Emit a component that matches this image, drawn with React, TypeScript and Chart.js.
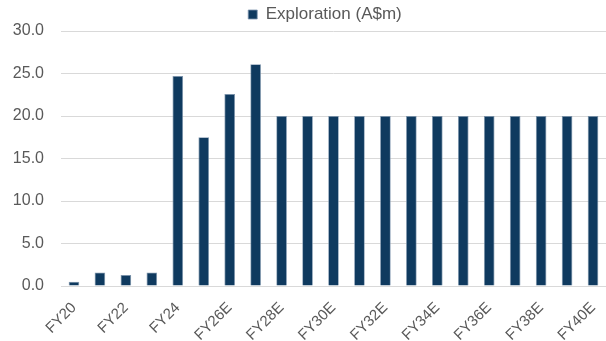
import React, { useEffect, useRef } from "react";
import { Chart, registerables } from "chart.js";

Chart.register(...registerables);

const categories = [
  "FY20", "FY21", "FY22", "FY23", "FY24", "FY25", "FY26E", "FY27E", "FY28E", "FY29E", "FY30E",
  "FY31E", "FY32E", "FY33E", "FY34E", "FY35E", "FY36E", "FY37E", "FY38E", "FY39E", "FY40E",
];
const exploration = [
  0.5, 1.6, 1.3, 1.6, 24.7, 17.5, 22.6, 26.1, 20, 20, 20,
  20, 20, 20, 20, 20, 20, 20, 20, 20, 20,
];
const seriesName = "Exploration (A$m)";

const shiftLegend = {
  id: "shiftLegend",
  afterLayout(chart: any) {
    const lg = chart.legend;
    if (!lg) return;
    lg.left += 22;
    lg.right += 22;
    lg.top += 2;
    lg.bottom += 2;
  },
};

export default function App() {
  const ref = useRef<HTMLCanvasElement | null>(null);
  useEffect(() => {
    document.body.style.margin = "0";
    const canvas = ref.current;
    if (!canvas) return;
    const font = "'Liberation Sans', Arial, sans-serif";
    const chart = new Chart(canvas, {
      type: "bar",
      data: {
        labels: categories,
        datasets: [
          {
            label: seriesName,
            data: exploration,
            backgroundColor: "#0F3A5F",
            borderColor: "#7F96AE",
            borderWidth: 0.8,
            barPercentage: 0.41,
            categoryPercentage: 1,
          },
        ],
      },
      plugins: [shiftLegend],
      options: {
        animation: false,
        responsive: false,
        maintainAspectRatio: false,
        layout: { padding: { left: 0, right: 0, top: 0, bottom: 0 } },
        plugins: {
          legend: {
            position: "top",
            labels: {
              boxWidth: 9,
              boxHeight: 9,
              color: "#595959",
              font: { family: font, size: 17 },
              padding: 4,
            },
          },
          tooltip: { enabled: false },
        },
        scales: {
          x: {
            grid: { display: false, drawTicks: false },
            border: { color: "#D9D9D9", width: 1 },
            afterFit: (s: any) => {
              s.height = 55;
              s.paddingLeft = 0;
              s.paddingRight = 0;
            },
            ticks: {
              autoSkip: false,
              maxRotation: 45,
              minRotation: 45,
              color: "#595959",
              font: { family: font, size: 15 },
              padding: 13,
              callback: (_v: any, i: number) => (i % 2 === 0 ? categories[i] : ""),
            },
          },
          y: {
            min: 0,
            max: 30,
            grid: { color: "#D9D9D9", drawTicks: false, lineWidth: 1 },
            border: { display: false },
            afterFit: (s: any) => {
              s.width = 61;
              s.paddingTop = 0;
              s.paddingBottom = 0;
            },
            ticks: {
              stepSize: 5,
              color: "#595959",
              font: { family: font, size: 16 },
              padding: 17,
              callback: (v: any) => Number(v).toFixed(1),
            },
          },
        },
      },
    });
    return () => chart.destroy();
  }, []);
  return (
    <div style={{ position: "fixed", left: 0, top: 0, width: 606, height: 341 }}>
      <canvas ref={ref} width={606} height={341} />
    </div>
  );
}
